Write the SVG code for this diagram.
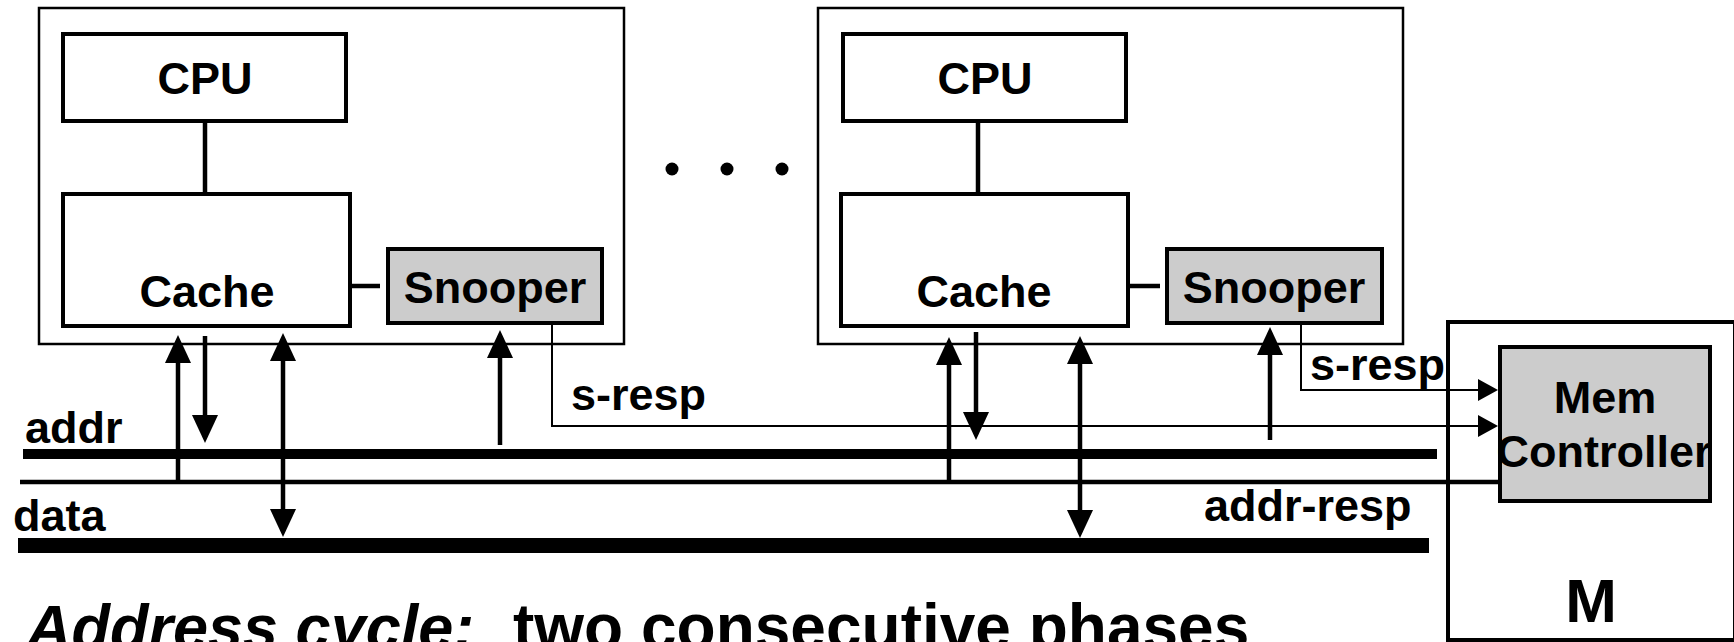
<svg xmlns="http://www.w3.org/2000/svg" width="1734" height="642" viewBox="0 0 1734 642">
<style>
text{font-family:"Liberation Sans",Arial,Helvetica,sans-serif;font-weight:bold;fill:#000}
.lbl{font-size:45px}
.mid{text-anchor:middle}
.outer{fill:#fff;stroke:#000;stroke-width:2.5}
.box{fill:#fff;stroke:#000;stroke-width:4}
.gray{fill:#cccccc;stroke:#000;stroke-width:4}
.wire{fill:none;stroke:#000;stroke-width:4.5}
.thin{fill:none;stroke:#000;stroke-width:2}
.bus{stroke:#000}
</style>
<defs>
<marker id="ah" markerUnits="userSpaceOnUse" markerWidth="28" markerHeight="26" viewBox="0 0 28 26" refX="18" refY="13" orient="auto-start-reverse">
<path d="M0,0 L28,13 L0,26 z" fill="#000"/>
</marker>
<marker id="ahs" markerUnits="userSpaceOnUse" markerWidth="20" markerHeight="22" viewBox="0 0 20 22" refX="14" refY="11" orient="auto">
<path d="M0,0 L20,11 L0,22 z" fill="#000"/>
</marker>
</defs>

<g id="node-proc1">
<rect class="outer" x="39" y="8" width="585" height="336"/>
</g>
<g id="node-cpu1">
<rect class="box" x="63" y="34" width="283" height="87"/>
<text class="lbl mid" x="205" y="94">CPU</text>
</g>
<g id="node-cache1">
<rect class="box" x="63" y="194" width="287" height="132"/>
<text class="lbl mid" x="207" y="307">Cache</text>
</g>
<g id="node-snooper1">
<rect class="gray" x="388" y="249" width="214" height="74"/>
<text class="lbl mid" x="495" y="303">Snooper</text>
</g>

<g id="node-dots">
<circle cx="672" cy="169" r="6.5"/>
<circle cx="727" cy="169" r="6.5"/>
<circle cx="782" cy="169" r="6.5"/>
</g>

<g id="node-proc2">
<rect class="outer" x="818" y="8" width="585" height="336"/>
</g>
<g id="node-cpu2">
<rect class="box" x="843" y="34" width="283" height="87"/>
<text class="lbl mid" x="985" y="94">CPU</text>
</g>
<g id="node-cache2">
<rect class="box" x="841" y="194" width="287" height="132"/>
<text class="lbl mid" x="984" y="307">Cache</text>
</g>
<g id="node-snooper2">
<rect class="gray" x="1167" y="249" width="215" height="74"/>
<text class="lbl mid" x="1274" y="303">Snooper</text>
</g>

<g id="node-memory">
<rect x="1448" y="322" width="287" height="318" fill="#fff" stroke="#000" stroke-width="4"/>
<text class="mid" x="1591" y="622" font-size="62">M</text>
</g>
<g id="node-memctrl">
<rect class="gray" x="1500" y="347" width="210" height="154"/>
<text class="lbl mid" x="1605" y="413">Mem</text>
<text class="lbl mid" x="1604" y="467">Controller</text>
</g>

<g id="node-buses">
<line class="bus" x1="23" y1="454" x2="1437" y2="454" stroke-width="10"/>
<line class="bus" x1="20" y1="482" x2="1500" y2="482" stroke-width="4.5"/>
<line class="bus" x1="18" y1="545.5" x2="1429" y2="545.5" stroke-width="15"/>
<text class="lbl" x="25" y="443">addr</text>
<text class="lbl" x="13" y="531">data</text>
<text class="lbl" x="1204" y="521">addr-resp</text>
</g>

<g id="connectors">
<line class="wire" x1="205" y1="121" x2="205" y2="194"/>
<line class="wire" x1="352" y1="286" x2="380" y2="286"/>
<line class="wire" x1="978" y1="121" x2="978" y2="194"/>
<line class="wire" x1="1130" y1="286" x2="1160" y2="286"/>

<line class="wire" x1="178" y1="482" x2="178" y2="345" marker-end="url(#ah)"/>
<line class="wire" x1="205" y1="336" x2="205" y2="433" marker-end="url(#ah)"/>
<line class="wire" x1="283" y1="343" x2="283" y2="527" marker-start="url(#ah)" marker-end="url(#ah)"/>
<line class="wire" x1="500" y1="445" x2="500" y2="340" marker-end="url(#ah)"/>

<line class="wire" x1="949" y1="482" x2="949" y2="347" marker-end="url(#ah)"/>
<line class="wire" x1="976" y1="332" x2="976" y2="430" marker-end="url(#ah)"/>
<line class="wire" x1="1080" y1="346" x2="1080" y2="528" marker-start="url(#ah)" marker-end="url(#ah)"/>
<line class="wire" x1="1270" y1="440" x2="1270" y2="337" marker-end="url(#ah)"/>

<polyline class="thin" points="552,325 552,426 1492,426" marker-end="url(#ahs)"/>
<polyline class="thin" points="1301,325 1301,390 1492,390" marker-end="url(#ahs)"/>
<text class="lbl" x="571" y="410">s-resp</text>
<text class="lbl" x="1310" y="380">s-resp</text>
</g>

<g id="node-caption">
<text x="26" y="649" font-size="63" font-style="italic">Address cycle:</text>
<text x="513" y="649" font-size="64">two consecutive phases</text>
</g>
</svg>
